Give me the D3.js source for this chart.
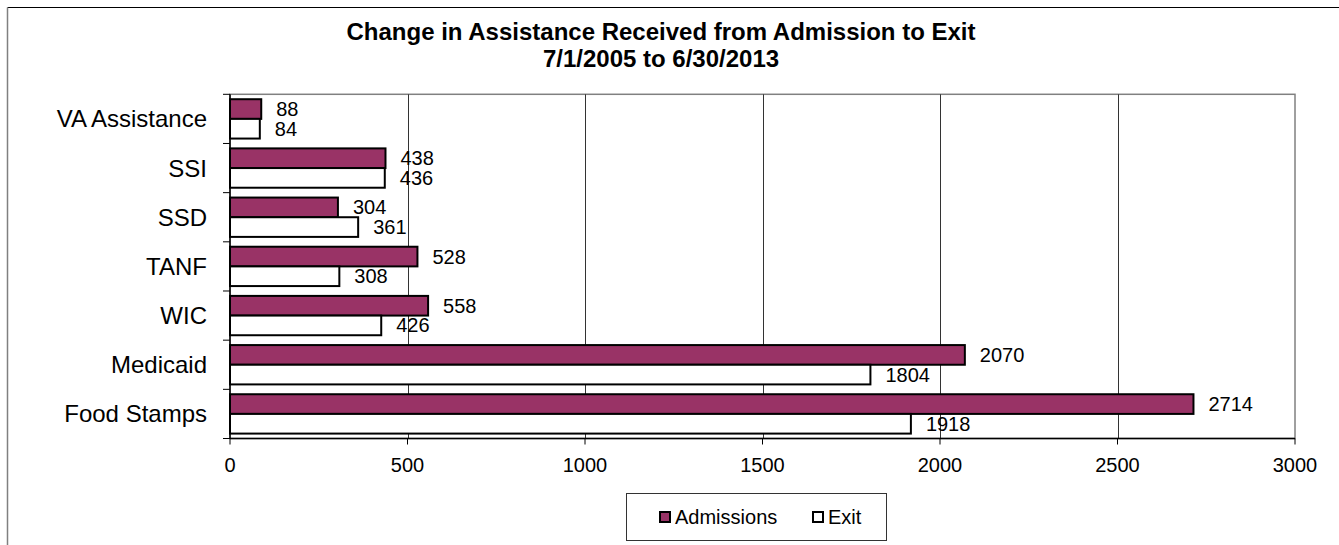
<!DOCTYPE html>
<html>
<head>
<meta charset="utf-8">
<script src="https://cdn.jsdelivr.net/npm/d3@7"></script>
<style>
  html, body { margin: 0; padding: 0; background: #fff; }
  svg { display: block; font-family: "Liberation Sans", Arial, sans-serif; }
</style>
</head>
<body>
<svg id="chart" width="1339" height="545"></svg>
<script>
const categories = ["VA Assistance", "SSI", "SSD", "TANF", "WIC", "Medicaid", "Food Stamps"];
const admissions = [88, 438, 304, 528, 558, 2070, 2714];
const exits = [84, 436, 361, 308, 426, 1804, 1918];
const seriesNames = ["Admissions", "Exit"];
const xTicks = [0, 500, 1000, 1500, 2000, 2500, 3000];
const titleLines = ["Change in Assistance Received from Admission to Exit", "7/1/2005 to 6/30/2013"];

const svg = d3.select("#chart");
const plot = { left: 230, right: 1295, top: 94.3, bottom: 438.5 };
const colors = ["#993366", "#ffffff"];

// outer frame
svg.append("line").attr("x1", 7.5).attr("x2", 1339).attr("y1", 7.5).attr("y2", 7.5)
  .attr("stroke", "#000").attr("stroke-width", 1);
svg.append("line").attr("x1", 7.5).attr("x2", 7.5).attr("y1", 7.5).attr("y2", 545)
  .attr("stroke", "#808080").attr("stroke-width", 1.5);

// title
svg.append("g").selectAll("text").data(titleLines).join("text")
  .attr("text-anchor", "middle").attr("font-weight", "bold").attr("font-size", 24)
  .attr("fill", "#000").attr("x", 661).attr("y", (d, i) => 40 + i * 27).text(d => d);

const x = d3.scaleLinear().domain([0, 3000]).range([plot.left, plot.right]);
const y = d3.scaleBand().domain(categories).range([plot.top, plot.bottom])
  .paddingInner(0.2).paddingOuter(0.1);
const ySub = d3.scaleBand().domain(seriesNames).range([0, y.bandwidth()]);

// plot area border (gray top and right)
svg.append("rect").attr("x", plot.left).attr("y", plot.top)
  .attr("width", plot.right - plot.left).attr("height", plot.bottom - plot.top)
  .attr("fill", "none").attr("stroke", "#808080").attr("stroke-width", 1.5);

// gridlines
svg.append("g").selectAll("line").data(xTicks.slice(1, -1)).join("line")
  .attr("x1", d => Math.round(x(d)) + 0.5).attr("x2", d => Math.round(x(d)) + 0.5)
  .attr("y1", plot.top).attr("y2", plot.bottom)
  .attr("stroke", "#333").attr("stroke-width", 1);

// bars
const rows = categories.map((c, i) => ({ cat: c, vals: [admissions[i], exits[i]] }));
const g = svg.append("g");
rows.forEach(r => {
  r.vals.forEach((v, j) => {
    const yy = y(r.cat) + ySub(seriesNames[j]);
    g.append("rect")
      .attr("x", x(0)).attr("y", yy)
      .attr("width", x(v) - x(0)).attr("height", ySub.bandwidth())
      .attr("fill", colors[j]).attr("stroke", "#000").attr("stroke-width", 2);
    g.append("text")
      .attr("x", x(v) + 15).attr("y", yy + ySub.bandwidth() / 2 + 7)
      .attr("font-size", 20).attr("fill", "#000").text(v);
  });
});

// y axis
const yAxisG = svg.append("g");
yAxisG.append("line").attr("x1", plot.left).attr("x2", plot.left)
  .attr("y1", plot.top).attr("y2", plot.bottom).attr("stroke", "#000").attr("stroke-width", 1.5);
const step = y.step();
const boundaries = d3.range(categories.length + 1).map(i => plot.top + i * step);
yAxisG.selectAll("line.tick").data(boundaries).join("line").attr("class", "tick")
  .attr("x1", plot.left - 7).attr("x2", plot.left).attr("y1", d => d).attr("y2", d => d)
  .attr("stroke", "#000").attr("stroke-width", 1);
yAxisG.selectAll("text").data(categories).join("text")
  .attr("x", 207).attr("y", d => y(d) + y.bandwidth() / 2 + 8.5)
  .attr("text-anchor", "end").attr("font-size", 24).attr("fill", "#000").text(d => d);

// x axis
const xAxisG = svg.append("g");
xAxisG.append("line").attr("x1", plot.left).attr("x2", plot.right)
  .attr("y1", plot.bottom).attr("y2", plot.bottom).attr("stroke", "#000").attr("stroke-width", 1.5);
xAxisG.selectAll("line.tick").data(xTicks).join("line").attr("class", "tick")
  .attr("x1", d => x(d)).attr("x2", d => x(d)).attr("y1", plot.bottom).attr("y2", plot.bottom + 6)
  .attr("stroke", "#000").attr("stroke-width", 1);
xAxisG.selectAll("text").data(xTicks).join("text")
  .attr("x", d => x(d)).attr("y", 472).attr("text-anchor", "middle")
  .attr("font-size", 20).attr("fill", "#000").text(d => d);

// legend
const lg = svg.append("g");
lg.append("rect").attr("x", 626.5).attr("y", 493.5).attr("width", 260).attr("height", 47)
  .attr("fill", "#fff").attr("stroke", "#333").attr("stroke-width", 1);
const legendX = [659, 812];
seriesNames.forEach((s, j) => {
  lg.append("rect").attr("x", legendX[j] + 1).attr("y", 512).attr("width", 10).attr("height", 10)
    .attr("fill", colors[j]).attr("stroke", "#000").attr("stroke-width", 2);
  lg.append("text").attr("x", legendX[j] + 16).attr("y", 524).attr("font-size", 20)
    .attr("fill", "#000").text(s);
});
</script>
</body>
</html>
